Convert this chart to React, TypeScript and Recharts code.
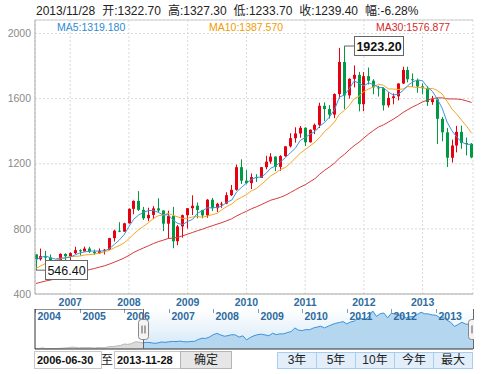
import React from 'react'
import {
  Area,
  Bar,
  CartesianGrid,
  ComposedChart,
  Line,
  ReferenceArea,
  ReferenceDot,
  ReferenceLine,
  XAxis,
  YAxis,
} from 'recharts'

const FONT = 'Arial, "Liberation Sans", "Noto Sans CJK SC", sans-serif'
const RED = '#e60012'
const GREEN = '#009944'

// monthly candles 2006-06 .. 2013-11
const months = [
  '2006-06', '2006-07', '2006-08', '2006-09', '2006-10', '2006-11', '2006-12',
  '2007-01', '2007-02', '2007-03', '2007-04', '2007-05', '2007-06', '2007-07', '2007-08', '2007-09', '2007-10', '2007-11', '2007-12',
  '2008-01', '2008-02', '2008-03', '2008-04', '2008-05', '2008-06', '2008-07', '2008-08', '2008-09', '2008-10', '2008-11', '2008-12',
  '2009-01', '2009-02', '2009-03', '2009-04', '2009-05', '2009-06', '2009-07', '2009-08', '2009-09', '2009-10', '2009-11', '2009-12',
  '2010-01', '2010-02', '2010-03', '2010-04', '2010-05', '2010-06', '2010-07', '2010-08', '2010-09', '2010-10', '2010-11', '2010-12',
  '2011-01', '2011-02', '2011-03', '2011-04', '2011-05', '2011-06', '2011-07', '2011-08', '2011-09', '2011-10', '2011-11', '2011-12',
  '2012-01', '2012-02', '2012-03', '2012-04', '2012-05', '2012-06', '2012-07', '2012-08', '2012-09', '2012-10', '2012-11', '2012-12',
  '2013-01', '2013-02', '2013-03', '2013-04', '2013-05', '2013-06', '2013-07', '2013-08', '2013-09', '2013-10', '2013-11',
]

const opens = [
  643.0, 613.5, 632.5, 623.5, 599.0, 604.0, 646.0,
  632, 651, 669, 662, 679, 659, 650, 666, 672, 743, 789, 783,
  834, 923, 972, 917, 865, 886, 926, 913, 832, 880, 724, 815,
  884, 927, 942, 916, 883, 979, 927, 954, 955, 1007, 1040, 1179,
  1096, 1081, 1118, 1113, 1179, 1213, 1244, 1181, 1247, 1307, 1357, 1386,
  1421, 1332, 1409, 1439, 1556, 1536, 1502, 1628, 1825, 1620, 1722, 1746,
  1566, 1738, 1710, 1669, 1664, 1559, 1604, 1614, 1693, 1776, 1719, 1713,
  1675, 1664, 1579, 1596, 1476, 1393, 1237, 1312, 1396, 1327, 1322.7,
]
const highs = [
  645, 679, 665, 643, 609, 650, 650,
  656, 690, 675, 691, 690, 673, 680, 676, 745, 795, 841, 838,
  926, 975, 1032, 935, 930, 940, 988, 914, 912, 935, 824, 888,
  928, 1006, 962, 917, 983, 990, 960, 966, 1025, 1070, 1195, 1227,
  1161, 1140, 1136, 1180, 1249, 1265, 1245, 1253, 1308, 1388, 1424, 1432,
  1424, 1411, 1447, 1575, 1577, 1560, 1632, 1912, 1923.2, 1725, 1804, 1764,
  1763, 1791, 1719, 1679, 1670, 1640, 1632, 1695, 1796, 1796, 1755, 1724,
  1694, 1676, 1617, 1606, 1488, 1420, 1348, 1433, 1434, 1361, 1327.3,
]
const lows = [
  546.4, 605, 607, 573, 560, 602, 603,
  603, 645, 636, 660, 652, 642, 648, 643, 670, 722, 780, 782,
  833, 890, 910, 855, 847, 860, 900, 786, 741, 681, 700, 746,
  802, 885, 865, 865, 868, 910, 904, 929, 952, 1002, 1035, 1076,
  1074, 1045, 1088, 1113, 1166, 1200, 1155, 1157, 1243, 1300, 1330, 1360,
  1309, 1330, 1382, 1420, 1462, 1478, 1480, 1600, 1535, 1600, 1669, 1522,
  1523, 1687, 1627, 1613, 1527, 1546, 1565, 1589, 1690, 1700, 1672, 1636,
  1627, 1555, 1562, 1321, 1338, 1180, 1208, 1270, 1292, 1251, 1233.7,
]
const closes = [
  613.5, 632.5, 623.5, 599.0, 604.0, 646.0, 632.0,
  651, 669, 662, 679, 659, 650, 666, 672, 743, 789, 783, 834,
  923, 972, 917, 865, 886, 926, 913, 832, 880, 724, 815, 884,
  927, 942, 916, 883, 979, 927, 954, 955, 1007, 1040, 1179, 1096,
  1081, 1118, 1113, 1179, 1213, 1244, 1181, 1247, 1307, 1357, 1386, 1421,
  1332, 1409, 1439, 1556, 1536, 1502, 1628, 1825, 1620, 1722, 1746, 1566,
  1738, 1710, 1669, 1664, 1559, 1604, 1614, 1693, 1776, 1719, 1713, 1675,
  1664, 1579, 1596, 1476, 1393, 1237, 1312, 1396, 1327, 1322.7, 1239.4,
]

// monthly closes 2004-01 .. 2006-05 (before the visible range; feeds MA30 and the navigator)
const closesBefore = [
  399.8, 395.9, 423.7, 388.5, 393.3, 395.8, 391.4, 407.3, 415.7, 429.2, 452.9, 438.0,
  422.2, 435.5, 429.0, 435.7, 414.5, 437.1, 429.0, 433.3, 473.3, 470.8, 495.7, 513.0,
  568.8, 556.0, 582.0, 654.5, 643.0,
]

const navYears = ['2004', '2005', '2006', '2007', '2008', '2009', '2010', '2011', '2012', '2013']
const yTicks = [400, 800, 1200, 1600, 2000]

const headerItems = ['2013/11/28', '开:1322.70', '高:1327.30', '低:1233.70', '收:1239.40', '幅:-6.28%']
const maLabels = [
  { text: 'MA5:1319.180', color: '#2b8ad6', left: 57 },
  { text: 'MA10:1387.570', color: '#f29b00', left: 209 },
  { text: 'MA30:1576.877', color: '#d42a2a', left: 376 },
]
const rangeButtons = ['3年', '5年', '10年', '今年', '最大']

const allCloses = [...closesBefore, ...closes]
const offset = closesBefore.length
const ma = (n: number, i: number) => {
  let s = 0
  for (let j = i + offset - n + 1; j <= i + offset; j++) s += allCloses[j]
  return s / n
}

const candles = months.map((m, i) => ({
  i,
  open: opens[i],
  high: highs[i],
  low: lows[i],
  close: closes[i],
  range: [lows[i], highs[i]],
  ma5: ma(5, i),
  ma10: ma(10, i),
  ma30: ma(30, i),
}))

const yearTicks = months.map((m, i) => (m.endsWith('-01') ? i : -1)).filter((i) => i >= 0)
const maxHigh = Math.max(...highs)
const minLow = Math.min(...lows)
const maxIdx = highs.indexOf(maxHigh)
const minIdx = lows.indexOf(minLow)

const navData = allCloses.map((c, k) => ({
  k,
  pre: k <= offset ? c : null,
  sel: k >= offset ? c : null,
}))
const navLast = allCloses.length - 1

function Candle(props: any) {
  const { x, y, width, height, payload } = props
  if (!payload || height == null) return null
  const { open, close, high, low } = payload
  const cx = Math.floor(x + width / 2)
  const k = height / (high - low)
  const yAt = (v: number) => y + (high - v) * k
  const color = close >= open ? RED : GREEN
  const top = yAt(Math.max(open, close))
  const bottom = yAt(Math.min(open, close))
  return (
    <g>
      <rect x={cx} y={y} width={1} height={height} fill={color} />
      <rect x={cx - 1} y={top} width={3} height={Math.max(1, bottom - top)} fill={color} />
    </g>
  )
}

function Callout({ cx, cy, text, w, bold }: any) {
  const bx = Math.floor(cx) + 10.5
  const by = Math.round(cy) - 9.5
  return (
    <g>
      <line x1={cx} y1={cy} x2={bx} y2={cy} stroke="#666" />
      <rect x={bx} y={by} width={w} height={19} fill="#fff" stroke="#666" />
      <text x={bx + w / 2} y={by + 14} textAnchor="middle" fontSize={12.5} fontWeight={bold ? 'bold' : 'normal'} fill="#111" fontFamily={FONT}>
        {text}
      </text>
    </g>
  )
}

function NavHandle(p: any) {
  const x = Math.round(p.x1) + 0.5
  const top = Math.min(p.y1, p.y2)
  const bottom = Math.max(p.y1, p.y2)
  const mid = Math.round((top + bottom) / 2) + 0.5
  return (
    <g>
      <line x1={x} y1={top} x2={x} y2={bottom} stroke="#666" />
      <rect x={x - 5} y={mid - 10} width={10} height={20} rx={3} fill="#f4f4f4" stroke="#888" />
      <line x1={x - 1.5} y1={mid - 4} x2={x - 1.5} y2={mid + 4} stroke="#555" />
      <line x1={x + 1.5} y1={mid - 4} x2={x + 1.5} y2={mid + 4} stroke="#555" />
    </g>
  )
}

function NavYear(label: string) {
  return (p: any) => {
    const x = Math.round(p.x1) + 0.5
    const top = Math.min(p.y1, p.y2)
    return (
      <g>
        <line x1={x} y1={top} x2={x} y2={top + 4} stroke="#6d9fcf" />
        <text x={x + 2} y={top + 11} fontSize={10.5} fontWeight="bold" fill="#2c6aa0" fontFamily={FONT}>
          {label}
        </text>
      </g>
    )
  }
}

const inputStyle: React.CSSProperties = {
  position: 'absolute',
  top: 351,
  width: 64,
  height: 16,
  border: '1px solid #c8c8c8',
  background: '#fff',
  fontSize: 11,
  fontWeight: 'bold',
  lineHeight: '16px',
  paddingLeft: 2,
  color: '#111',
}

export default function App() {
  return (
    <div
      style={{
        position: 'absolute',
        left: 0,
        top: 0,
        width: 495,
        height: 374,
        background: '#fff',
        overflow: 'hidden',
        fontFamily: FONT,
      }}
    >
      <div style={{ position: 'absolute', left: 36, top: 3, fontSize: 12, lineHeight: '16px', color: '#222', whiteSpace: 'nowrap' }}>
        {headerItems.map((t) => (
          <span key={t} style={{ marginRight: 7 }}>
            {t}
          </span>
        ))}
      </div>
      {maLabels.map((m) => (
        <div
          key={m.text}
          style={{ position: 'absolute', left: m.left, top: 21, fontSize: 10.5, lineHeight: '12px', color: m.color, whiteSpace: 'nowrap' }}
        >
          {m.text}
        </div>
      ))}

      <div style={{ position: 'absolute', left: 0, top: 0 }}>
        <ComposedChart width={495} height={320} data={candles} margin={{ top: 20, right: 22, bottom: 0, left: 0 }}>
          <CartesianGrid stroke="#d9d9d9" strokeDasharray="2 2" />
          <XAxis
            type="number"
            dataKey="i"
            domain={[-0.2, 89.3]}
            ticks={yearTicks}
            interval={0}
            allowDataOverflow
            tickFormatter={(v: number) => months[v].slice(0, 4)}
            height={26}
            tickSize={0}
            tickMargin={5}
            axisLine={{ stroke: '#aaa' }}
            tick={{ fill: '#2f6d9e', fontSize: 10.5, fontWeight: 'bold', fontFamily: FONT }}
          />
          <YAxis
            domain={[400, 2083]}
            ticks={yTicks}
            interval={0}
            allowDataOverflow
            width={35}
            tickSize={0}
            tickMargin={4}
            axisLine={{ stroke: '#aaa' }}
            tick={{ fill: '#8a8a8a', fontSize: 10.5, fontFamily: FONT }}
          />
          <ReferenceLine y={2083} stroke="#cfcfcf" strokeDasharray="0" />
          <Bar dataKey="range" barSize={3} shape={Candle} isAnimationActive={false} />
          <Line dataKey="ma30" type="linear" stroke="#d8383c" strokeWidth={1} dot={false} isAnimationActive={false} />
          <Line dataKey="ma10" type="linear" stroke="#f5a623" strokeWidth={1} dot={false} isAnimationActive={false} />
          <Line dataKey="ma5" type="linear" stroke="#3d97dd" strokeWidth={1} dot={false} isAnimationActive={false} />
          <ReferenceDot
            x={maxIdx}
            y={maxHigh}
            ifOverflow="visible"
            shape={(p: any) => <Callout cx={p.cx} cy={p.cy} text={maxHigh.toFixed(2)} w={49} bold />}
          />
          <ReferenceDot
            x={minIdx}
            y={minLow}
            ifOverflow="visible"
            shape={(p: any) => <Callout cx={p.cx} cy={p.cy} text={minLow.toFixed(2)} w={42} />}
          />
        </ComposedChart>
      </div>

      <div style={{ position: 'absolute', left: 0, top: 309, width: 474, height: 41, overflow: 'hidden' }}>
        <ComposedChart width={474} height={41} data={navData} margin={{ top: 0, right: 1, bottom: 1, left: 35 }}>
          <defs>
            <linearGradient id="navBg" x1="0" y1="0" x2="0" y2="1">
              <stop offset="0" stopColor="#ffffff" />
              <stop offset="1" stopColor="#d3e7f7" />
            </linearGradient>
          </defs>
          <XAxis type="number" dataKey="k" domain={[0, navLast]} hide />
          <YAxis domain={[380, 1900]} hide />
          <ReferenceArea x1={offset} x2={navLast} y1={380} y2={1900} fill="url(#navBg)" fillOpacity={1} stroke="none" />
          <Area dataKey="pre" type="linear" stroke="#b8b8b8" fill="#dcdcdc" fillOpacity={1} dot={false} isAnimationActive={false} />
          <Area dataKey="sel" type="linear" stroke="#3a93dc" fill="#b5d6ef" fillOpacity={1} dot={false} isAnimationActive={false} />
          {navYears.map((y, j) => (
            <ReferenceLine key={y} x={j * 12} stroke="none" shape={NavYear(y)} />
          ))}
          <ReferenceLine segment={[{ x: 0, y: 1900 }, { x: offset, y: 1900 }]} stroke="#222" />
          <ReferenceLine segment={[{ x: 0, y: 380 }, { x: navLast, y: 380 }]} stroke="#333" />
          <ReferenceLine segment={[{ x: 0, y: 380 }, { x: 0, y: 1900 }]} stroke="#333" />
          <ReferenceLine x={offset} shape={NavHandle} />
          <ReferenceLine x={navLast} shape={NavHandle} />
        </ComposedChart>
      </div>

      <div style={{ ...inputStyle, left: 34 }}>2006-06-30</div>
      <div style={{ position: 'absolute', left: 101, top: 352, fontSize: 12, lineHeight: '16px', color: '#222' }}>至</div>
      <div style={{ ...inputStyle, left: 114 }}>2013-11-28</div>
      <div
        style={{
          position: 'absolute',
          left: 180,
          top: 351,
          width: 50,
          height: 16,
          border: '1px solid #b5b5b5',
          background: '#e6e6e6',
          fontSize: 12,
          lineHeight: '16px',
          textAlign: 'center',
          color: '#222',
        }}
      >
        确定
      </div>
      <div style={{ position: 'absolute', left: 277, top: 352, display: 'flex' }}>
        {rangeButtons.map((b) => (
          <div
            key={b}
            style={{
              width: 38,
              height: 15,
              border: '1px solid #a9cdef',
              marginRight: -1,
              background: '#e2effb',
              fontSize: 12,
              lineHeight: '15px',
              textAlign: 'center',
              color: '#222',
            }}
          >
            {b}
          </div>
        ))}
      </div>
    </div>
  )
}
